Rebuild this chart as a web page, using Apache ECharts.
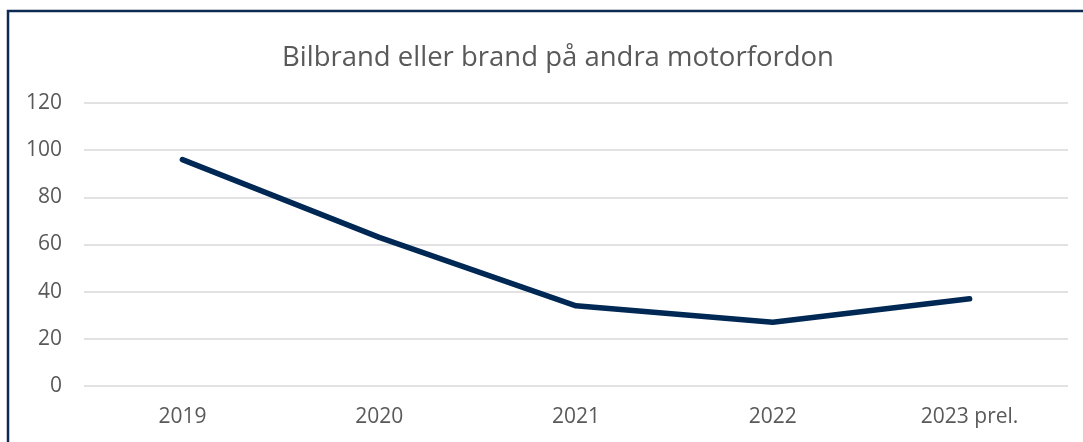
<!DOCTYPE html>
<html>
<head>
<meta charset="utf-8">
<script src="https://cdn.jsdelivr.net/npm/echarts@6/dist/echarts.min.js"></script>
<style>
  html, body { margin: 0; padding: 0; background: #fff; }
  #chart { width: 1083px; height: 442px; }
</style>
</head>
<body>
<div id="chart"></div>
<script>
// data
const chartTitle = 'Bilbrand eller brand på andra motorfordon'
const years = ['2019', '2020', '2021', '2022', '2023 prel.']
const fires = [96, 63, 34, 27, 37]

const textColor = '#595959'
const fontFamily = '"Open Sans", sans-serif'

const chart = echarts.init(document.getElementById('chart'))

const option = {
  animation: false,
  backgroundColor: '#fff',
  title: {
    text: chartTitle,
    left: 277,
    top: 39,
    textStyle: {
      color: textColor,
      fontFamily: fontFamily,
      fontSize: 27.5,
      fontWeight: 'normal'
    }
  },
  // frame around the chart (only top and left edges show in the picture)
  graphic: [
    {
      type: 'rect',
      shape: { x: 8, y: 11, width: 2000, height: 1000 },
      style: { fill: 'none', stroke: '#0c2a52', lineWidth: 2.5 },
      silent: true
    }
  ],
  grid: {
    left: 84,
    right: 15,
    top: 103,
    bottom: 56
  },
  xAxis: {
    type: 'category',
    data: years,
    boundaryGap: true,
    axisLine: { show: false },
    axisTick: { show: false },
    axisLabel: {
      color: textColor,
      fontFamily: fontFamily,
      fontSize: 21,
      margin: 21
    }
  },
  yAxis: {
    type: 'value',
    min: 0,
    max: 120,
    interval: 20,
    axisLine: { show: false },
    axisTick: { show: false },
    axisLabel: {
      color: textColor,
      fontFamily: fontFamily,
      fontSize: 21,
      margin: 22
    },
    splitLine: {
      lineStyle: { color: '#d9d9d9', width: 1.5 }
    }
  },
  series: [
    {
      name: chartTitle,
      type: 'line',
      data: fires,
      showSymbol: false,
      lineStyle: {
        color: '#002855',
        width: 5.5,
        cap: 'round',
        join: 'round'
      }
    }
  ]
}

chart.setOption(option)
</script>
</body>
</html>
